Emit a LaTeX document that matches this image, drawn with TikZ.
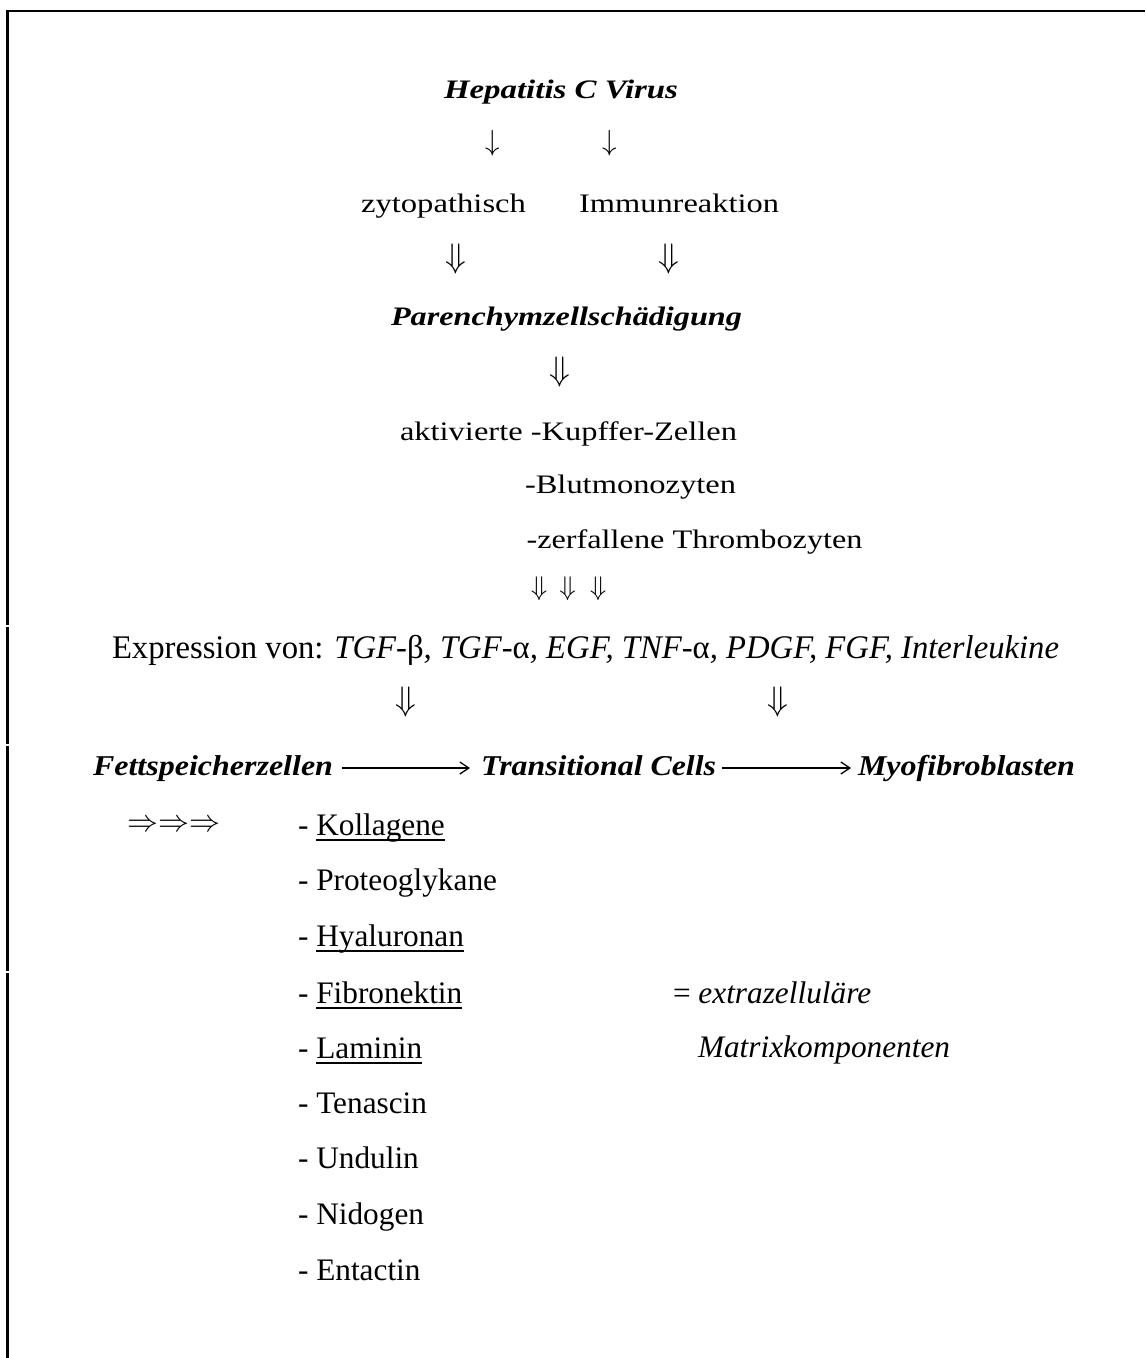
\RequirePackage{fix-cm}
\documentclass[tikz,border=0pt]{standalone}
\usepackage{fontspec}
\setmainfont{Liberation Serif}
\usepackage{graphicx}
\newdimen\pxu \pxu=0.5pt
\newcommand\fw[2]{\resizebox{#1\pxu}{\height}{#2}}
\newsavebox\ulbox
\newcommand\ulword[1]{\sbox\ulbox{#1}\rlap{\rule[-3.2pt]{\wd\ulbox}{1pt}}\usebox\ulbox}
\usetikzlibrary{arrows.meta}
\begin{document}
\begin{tikzpicture}[x=0.5pt,y=-0.5pt,
  txt/.style={inner sep=0pt, outer sep=0pt, anchor=base west},
  up/.style={txt, font=\fontsize{13.35}{16}\selectfont},
  upb/.style={txt, font=\fontsize{13.35}{16}\selectfont\bfseries\itshape},
  expr/.style={txt, font=\fontsize{16.5}{19}\selectfont},
  rowb/.style={txt, font=\fontsize{14.35}{17}\selectfont\bfseries\itshape},
  lst/.style={txt, font=\fontsize{15.65}{18}\selectfont},
  sarr/.style={inner sep=0pt, anchor=center, font=\fontsize{14.5}{15}\selectfont},
  darr/.style={inner sep=0pt, anchor=center, font=\fontsize{17}{18}\selectfont},
  darrs/.style={inner sep=0pt, anchor=center, font=\fontsize{13.5}{14}\selectfont},
  harrow/.style={line width=0.65pt, -{Straight Barb[length=4.5pt,width=6pt,line width=0.65pt]}},
  frame/.style={line width=1.25pt}]
\useasboundingbox (0,0) rectangle (1145,1358);
\draw[frame] (7.7,624.5) -- (7.7,11.2) -- (1145,11.2);
\draw[frame] (7.7,626.5) -- (7.7,744);
\draw[frame] (7.7,746) -- (7.7,971);
\draw[frame] (7.7,973) -- (7.7,1358);

% upper part
\node[upb] (hcv) at (444,99) {\fw{234}{Hepatitis C Virus}};
\node[sarr] (a1) at (493,143) {$\downarrow$};
\node[sarr] (a2) at (610,143) {$\downarrow$};
\node[up] (zyto) at (361,213) {\fw{165}{zytopathisch}};
\node[up] (immun) at (579,213) {\fw{200}{Immunreaktion}};
\node[darr] (d1) at (456,259) {$\Downarrow$};
\node[darr] (d2) at (669,259) {$\Downarrow$};
\node[upb] (paren) at (391,326) {\fw{351}{Parenchymzellschädigung}};
\node[darr] (d3) at (560,372) {$\Downarrow$};
\node[up] (akt) at (400,440) {\fw{337}{aktivierte -Kupffer-Zellen}};
\node[up] (blut) at (525,493) {\fw{211}{-Blutmonozyten}};
\node[up] (zerf) at (526.5,548) {\fw{336}{-zerfallene Thrombozyten}};
\node[darrs] (t1) at (539,589) {$\Downarrow$};
\node[darrs] (t2) at (567.5,589) {$\Downarrow$};
\node[darrs] (t3) at (598,589) {$\Downarrow$};

% expression line
\node[expr] (expr) at (112,658) {\fw{947}{Expression von: \textit{TGF-}β\textit{, TGF-}α\textit{, EGF, TNF-}α\textit{, PDGF, FGF, Interleukine}}};
\node[darr] (d4) at (406,702) {$\Downarrow$};
\node[darr] (d5) at (778,702) {$\Downarrow$};

% cell row
\node[rowb] (fett) at (93,775) {\fw{240}{Fettspeicherzellen}};
\node[rowb] (trans) at (481,775) {\fw{235}{Transitional Cells}};
\node[rowb] (myo) at (858,775) {\fw{217}{Myofibroblasten}};
\draw[harrow] ([xshift=4.5pt,yshift=3.5pt]fett.base east) -- ([xshift=-5.5pt,yshift=3.5pt]trans.base west);
\draw[harrow] ([xshift=3pt,yshift=3.5pt]trans.base east) -- ([xshift=-3.5pt,yshift=3.5pt]myo.base west);

% list
\node[inner sep=0pt, anchor=west, font=\fontsize{15.5}{16}\selectfont] (rr) at (127,826) {$\Rightarrow\Rightarrow\Rightarrow$};
\node[lst] (l1) at (298,835) {- \ulword{Kollagene}};
\node[lst] (l2) at (298,890) {- Proteoglykane};
\node[lst] (l3) at (298,946) {- \ulword{Hyaluronan}};
\node[lst] (l4) at (298,1003) {- \ulword{Fibronektin}};
\node[lst] (l5) at (298,1058) {- \ulword{Laminin}};
\node[lst] (l6) at (298,1113) {- Tenascin};
\node[lst] (l7) at (298,1168) {- Undulin};
\node[lst] (l8) at (298,1224) {- Nidogen};
\node[lst] (l9) at (298,1280) {- Entactin};
\node[lst] (eq) at (673,1003) {= \textit{extrazelluläre}};
\node[lst] (mat) at (698,1057) {\textit{Matrixkomponenten}};
\end{tikzpicture}
\end{document}
